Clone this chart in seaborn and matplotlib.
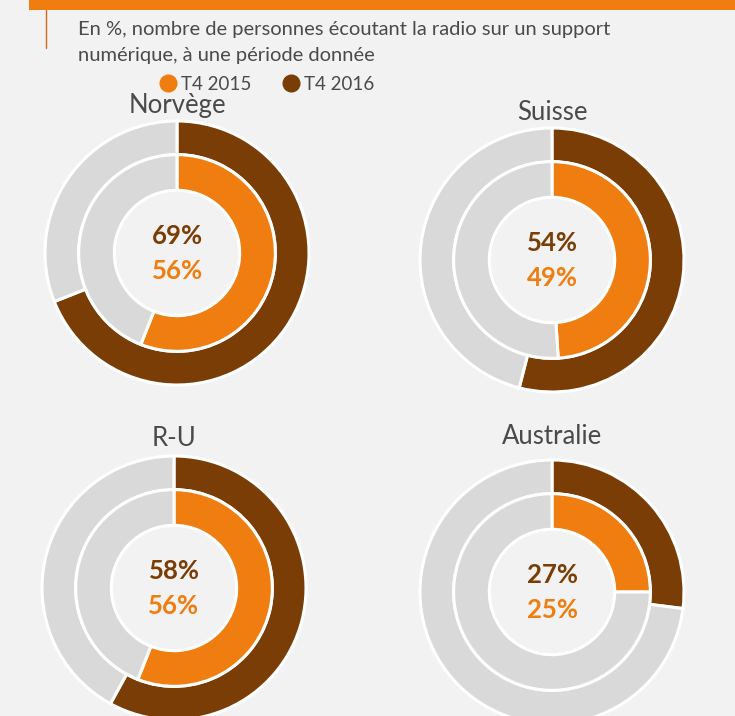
import matplotlib
matplotlib.use("Agg")
import matplotlib.pyplot as plt
import seaborn as sns

# data
countries = ["Norvège", "Suisse", "R-U", "Australie"]
t4_2015 = [56, 49, 56, 25]
t4_2016 = [69, 54, 58, 27]
series = ["T4 2015", "T4 2016"]

subtitle = "En %, nombre de personnes écoutant la radio sur un support\nnumérique, à une période donnée"

ORANGE = "#F07D0F"
BROWN = "#7A3D05"
GREY = "#D9D9D9"
BG = "#F2F2F2"
TXT = "#4A4A4A"

sns.set_theme(style="white")
plt.rcParams["font.family"] = ["Lato", "DejaVu Sans"]

W, H = 735, 716
fig = plt.figure(figsize=(W / 100, H / 100), dpi=100, facecolor=BG)

# header decoration
bar = fig.add_axes([29 / W, 1 - 10 / H, 1 - 29 / W, 10 / H])
bar.set_facecolor(ORANGE)
bar.set_xticks([]); bar.set_yticks([])
for s in bar.spines.values():
    s.set_visible(False)
fig.add_artist(plt.Line2D([46 / W, 46 / W], [1 - 10 / H, 1 - 48 / H], color="#D2691E", lw=1))

lines = subtitle.split("\n")
fig.text(78 / W, 1 - 30 / H, lines[0], fontsize=14.5, color=TXT, va="center", ha="left")
fig.text(78 / W, 1 - 55 / H, lines[1], fontsize=14.5, color=TXT, va="center", ha="left")

# legend
pal = [ORANGE, BROWN]
lx = [168, 291]
for x, lab, c in zip(lx, series, pal):
    fig.add_artist(plt.Line2D([x / W], [1 - 83 / H], marker="o", markersize=12,
                              color=c, linestyle="none"))
    fig.text((x + 13) / W, 1 - 84 / H, lab, color=TXT, fontsize=13.5,
             ha="left", va="center")

centers = [(177, 253), (552, 260), (174, 588), (552, 592)]
title_y = [105, 112, 438, 437]
R = 132
pad = 1.03

for name, v15, v16, (cx, cy), ty in zip(countries, t4_2015, t4_2016, centers, title_y):
    r = R * pad
    ax = fig.add_axes([(cx - r) / W, 1 - (cy + r) / H, 2 * r / W, 2 * r / H])
    ax.set_xlim(-pad, pad); ax.set_ylim(-pad, pad)
    ax.set_aspect("equal")
    ax.axis("off")
    ax.pie([v16, 100 - v16], radius=1.0, startangle=90, counterclock=False,
           colors=[BROWN, GREY], wedgeprops=dict(width=0.255, edgecolor="white", linewidth=2.2))
    ax.pie([v15, 100 - v15], radius=0.745, startangle=90, counterclock=False,
           colors=[ORANGE, GREY], wedgeprops=dict(width=0.27, edgecolor="white", linewidth=2.2))
    ax.set_xlim(-pad, pad); ax.set_ylim(-pad, pad)
    ax.text(0, 0.13, f"{v16}%", color=BROWN, fontsize=18.5, fontweight="bold",
            ha="center", va="center")
    ax.text(0, -0.14, f"{v15}%", color=ORANGE, fontsize=18.5, fontweight="bold",
            ha="center", va="center")
    fig.text(cx / W, 1 - ty / H, name, fontsize=18.5, color=TXT, ha="center",
             va="center")

fig.savefig("out.png", dpi=100, facecolor=BG)
